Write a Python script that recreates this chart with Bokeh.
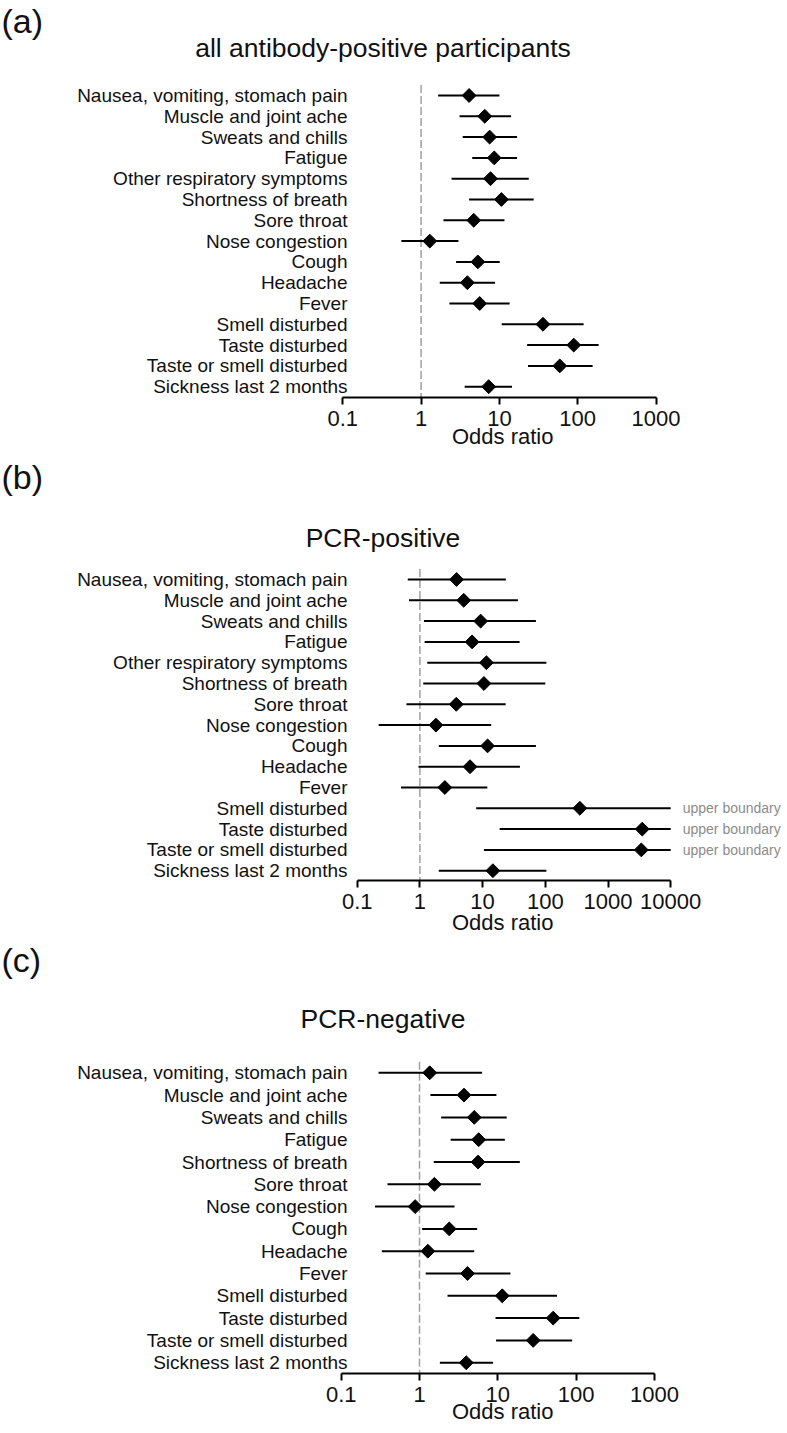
from bokeh.plotting import figure
from bokeh.models import Range1d, FixedTicker, PrintfTickFormatter, Title
from bokeh.layouts import column
from bokeh.embed import file_html
from bokeh.resources import INLINE
from bokeh.core.properties import value
import numpy as np

FONT = "Liberation Sans"

# ---------------- data ----------------
symptoms_ab = ["Nausea, vomiting, stomach pain", "Muscle and joint ache", "Sweats and chills",
               "Fatigue", "Other respiratory symptoms", "Shortness of breath", "Sore throat",
               "Nose congestion", "Cough", "Headache", "Fever", "Smell disturbed",
               "Taste disturbed", "Taste or smell disturbed", "Sickness last 2 months"]
symptoms_c = ["Nausea, vomiting, stomach pain", "Muscle and joint ache", "Sweats and chills",
              "Fatigue", "Shortness of breath", "Sore throat", "Nose congestion", "Cough",
              "Headache", "Fever", "Smell disturbed", "Taste disturbed",
              "Taste or smell disturbed", "Sickness last 2 months"]

# (a) all antibody-positive participants
or_a = [4.1, 6.5, 7.5, 8.6, 7.7, 10.6, 4.7, 1.29, 5.3, 3.9, 5.6, 36, 89, 59, 7.3]
lo_a = [1.65, 3.1, 3.4, 4.5, 2.45, 4.1, 1.93, 0.56, 2.8, 1.73, 2.3, 10.7, 22.6, 23.2, 3.6]
hi_a = [10.0, 14.1, 16.8, 16.8, 23.7, 27.4, 11.6, 3.0, 10.1, 8.8, 13.5, 119, 185, 155, 14.5]

# (b) PCR-positive
or_b = [3.85, 5.0, 9.3, 6.8, 11.5, 10.5, 3.8, 1.8, 12.0, 6.3, 2.5, 356, 3520, 3400, 14.6]
lo_b = [0.64, 0.67, 1.16, 1.19, 1.31, 1.13, 0.61, 0.22, 2.0, 0.95, 0.50, 7.9, 18.7, 10.5, 2.0]
hi_b = [23.5, 36.6, 70.8, 38.9, 104, 100, 23.3, 13.7, 70.8, 39.4, 11.9, 10000, 10000, 10000, 104]
upper_b = [False] * 11 + [True, True, True] + [False]

# (c) PCR-negative
or_c = [1.35, 3.7, 5.0, 5.7, 5.6, 1.55, 0.88, 2.4, 1.28, 4.1, 11.4, 51, 28.3, 3.95]
lo_c = [0.30, 1.38, 1.89, 2.5, 1.52, 0.39, 0.27, 1.08, 0.33, 1.2, 2.28, 9.35, 9.5, 1.82]
hi_c = [6.3, 9.6, 13.0, 12.3, 19.1, 6.07, 2.8, 5.45, 5.0, 14.5, 57, 110, 89, 8.7]

ticks_3 = [0.1, 1, 10, 100, 1000]
ticks_4 = [0.1, 1, 10, 100, 1000, 10000]

W = 787


def panel(letter, title, labels, est, lo, hi, ticks, x01_px, dec_px,
          fig_top, height, row0_px, row_sp, axis_px, letter_px, title_px,
          xlabel_standoff, upper=None):
    # layout helpers: page pixel -> data coordinate
    def xd(px):
        return 10 ** (np.log10(ticks[0]) + (px - x01_px) / dec_px)

    def yd(py):
        return (py - row0_px) / row_sp

    frame_h = axis_px - fig_top
    p = figure(width=W, height=height, x_axis_type="log",
               x_range=Range1d(xd(0), xd(W)), y_range=Range1d(yd(axis_px), yd(fig_top)),
               y_axis_location=None, output_backend="svg", toolbar_location=None,
               min_border_left=0, min_border_right=0, min_border_top=0,
               min_border_bottom=height - frame_h)
    p.outline_line_color = None
    p.grid.visible = False
    p.background_fill_color = "white"
    p.border_fill_color = "white"

    n = len(labels)
    rows = list(range(n))

    # reference line at OR = 1
    p.segment(x0=[1], x1=[1], y0=[-0.5], y1=[yd(axis_px)], line_color="#a0a0a0",
              line_dash="8 3", line_width=1.5)
    # confidence intervals and estimates
    p.segment(x0=lo, y0=rows, x1=hi, y1=rows, line_color="black", line_width=2)
    p.scatter(x=est, y=rows, marker="square", angle=np.pi / 4, size=9.8,
              fill_color="black", line_color="black")

    # category labels
    p.text(x=[xd(347)] * n, y=rows, text=labels, text_align="right", text_baseline="middle",
           text_font_size="19px", text_color="#111111", text_font=value(FONT))

    if upper is not None:
        ux = [h for h, u in zip(hi, upper) if u]
        uy = [r for r, u in zip(rows, upper) if u]
        p.text(x=ux, y=uy, text=["upper boundary"] * len(ux), x_offset=12,
               text_align="left", text_baseline="middle", text_font_size="14px",
               text_color="#8c8c8c", text_font=value(FONT))

    # panel letter and title
    p.text(x=[xd(1)], y=[yd(letter_px)], text=[letter], text_align="left",
           text_baseline="middle", text_font_size="34px", text_color="#111111",
           text_font=value(FONT))
    p.text(x=[xd(382.5)], y=[yd(title_px)], text=[title], text_align="center",
           text_baseline="middle", text_font_size="26.5px", text_color="#111111",
           text_font=value(FONT))

    xa = p.xaxis[0]
    xa.ticker = FixedTicker(ticks=ticks, minor_ticks=[])
    xa.formatter = PrintfTickFormatter(format="%g")
    xa.bounds = (ticks[0], ticks[-1])
    xa.axis_line_width = 2
    xa.axis_line_color = "black"
    xa.major_tick_line_width = 2
    xa.major_tick_line_color = "black"
    xa.major_tick_out = 7
    xa.major_tick_in = 0
    xa.minor_tick_line_color = None
    xa.major_label_text_font = FONT
    xa.major_label_text_font_size = "22px"
    xa.major_label_text_color = "#111111"
    xa.major_label_standoff = 6

    p.add_layout(Title(text="Odds  ratio", align="left", offset=451.5, vertical_align="top",
                       standoff=xlabel_standoff, text_font=FONT, text_font_size="22px",
                       text_font_style="normal", text_color="#111111"), "below")
    return p


pa = panel("(a)", "all antibody-positive participants", symptoms_ab, or_a, lo_a, hi_a,
           ticks_3, 342.3, 78.3, 0, 455, 95, 20.8, 397, 20, 47, -9)
pb = panel("(b)", "PCR-positive", symptoms_ab, or_b, lo_b, hi_b,
           ticks_4, 356.7, 62.7, 455, 485, 579, 20.8, 880, 476, 537, -3, upper=upper_b)
pc = panel("(c)", "PCR-negative", symptoms_c, or_c, lo_c, hi_c,
           ticks_3, 340.7, 78.3, 940, 493, 1072.3, 22.3, 1373, 959, 1018, -11)

layout = column(pa, pb, pc, spacing=0)
open("out.html", "w").write(file_html(layout, INLINE))
